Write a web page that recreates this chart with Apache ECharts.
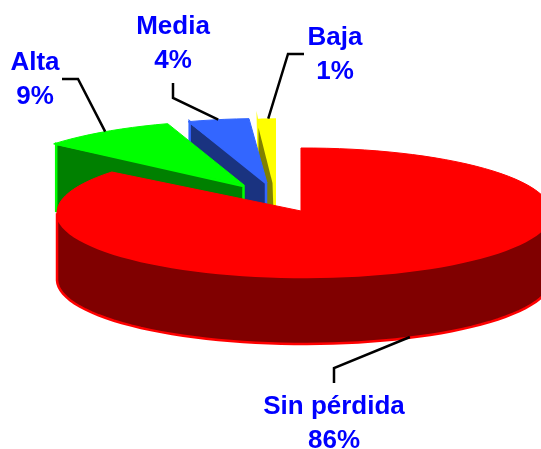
<!DOCTYPE html>
<html>
<head>
<meta charset="utf-8">
<style>html,body{margin:0;padding:0;background:#fff;overflow:hidden}#c{width:541px;height:449px}</style>
<script src="https://cdn.jsdelivr.net/npm/echarts@6/dist/echarts.min.js"></script>
</head>
<body>
<div id="c"></div>
<script>
// Data, drawn back to front: the shares run counter-clockwise from 12 o'clock
const categories = ['Baja', 'Media', 'Alta', 'Sin pérdida'];
const shares = [1, 4, 9, 86];

// Styles
const topColors = ['#ffff00', '#3366ff', '#00ff00', '#ff0000'];
const darkColors = ['#808000', '#1a3380', '#008000', '#800000'];
const textColor = '#0000ff';

// Pie projection
const radiusX = 247, radiusY = 64.5, depth = 67;
const rotations = [0, 0, 0, -0.7];
// Top-ellipse centre of each slice (exploded) and the tip of its wedge
const centers = [[276, 183], [264.5, 183], [244, 185], [304, 212.5]];
const apexes = [[276, 183], [267, 183], [244, 185], [301, 211]];
const faceApexes = [[272.5, 183], [266, 183], [243.5, 186], null];
const faceOuterShift = [0, 1.5, 2.5, 0];
// Label layout
const labelBoxes = [[335, 54.5], [173, 44], [35, 80], [334, 423.5]];
const elbows = [
  [[304, 54], [288, 54]],
  [[173, 83], [173, 98]],
  [[62, 79], [78, 79]],
  [[334, 383], [334, 368]]
];

function arcPoint(c, deg, i) {
  const r = (deg + rotations[i]) * Math.PI / 180;
  return [c[0] + radiusX * Math.sin(r), c[1] - radiusY * Math.cos(r)];
}
function arc(c, from, to, i) {
  const pts = [], n = Math.max(4, Math.ceil((to - from) / 3));
  for (let k = 0; k <= n; k++) pts.push(arcPoint(c, from + (to - from) * k / n, i));
  return pts;
}
const down = p => [p[0], p[1] + depth];
function poly(points, fill, stroke, width) {
  return { type: 'polygon', shape: { points: points },
    style: { fill: fill, stroke: stroke, lineWidth: width, lineJoin: 'miter' } };
}

function renderItem(params, api) {
  const i = params.dataIndex;
  const share = api.value(0);
  let after = 0;
  for (let k = 0; k < i; k++) after += shares[k];
  const end = 360 - after * 3.6, start = end - share * 3.6;
  const mid = (start + end) / 2;
  const c = centers[i], light = topColors[i], dark = darkColors[i];
  const children = [];
  const isBig = i === categories.length - 1;
  const top = [apexes[i]].concat(arc(c, start, end, i));

  if (i === 0) {
    // thin sliver: lit edge standing behind its cut face
    const o = arcPoint(c, start, i), e = arcPoint(c, end, i);
    children.push(poly([[o[0] - 4, o[1] - 8], [o[0] - 2.5, o[1]], e,
      [e[0], c[1] + 30], [o[0] - 2, c[1] + 30]], light, null, 0));
    children.push(poly([[o[0] - 2, o[1] + 9], faceApexes[i], [faceApexes[i][0] + 1, c[1] + 30], [o[0] - 2, c[1] + 30]], dark, null, 0));
    children.push(poly([[o[0], o[1]], e, [e[0], o[1] + 9], [o[0], o[1] + 9]], light, null, 0));
  } else if (isBig) {
    const wall = arc(c, 90, 270, i);
    children.push(poly(wall.concat(wall.map(down).reverse()), dark, light, 2.5));
    children.push(poly(top, light, light, 1));
  } else {
    const f = faceApexes[i];
    const o = arcPoint(c, start, i);
    o[0] += faceOuterShift[i];
    children.push(poly([o, f, down(f), down(o)], dark, light, 2.5));
    children.push(poly(top, light, light, 1));
  }

  // Leader line runs from the rim at the slice's middle angle
  let anchor = arcPoint(c, mid, i);
  if (isBig) anchor = [anchor[0] - 2, anchor[1] + depth - 0.5];
  children.push({ type: 'polyline', shape: { points: elbows[i].concat([anchor]) },
    style: { stroke: '#000', lineWidth: 2.5, fill: null } });

  const box = labelBoxes[i];
  children.push({ type: 'text', style: {
    x: box[0], y: box[1], text: categories[i] + '\n' + share + '%',
    font: 'bold 26px "Liberation Sans", Arial, sans-serif', lineHeight: 34,
    fill: textColor, align: 'center', verticalAlign: 'middle' } });

  return { type: 'group', children: children };
}

const chart = echarts.init(document.getElementById('c'), null, { renderer: 'canvas' });
chart.setOption({
  animation: false,
  backgroundColor: '#ffffff',
  series: [{
    type: 'custom',
    coordinateSystem: 'none',
    renderItem: renderItem,
    data: shares.map((v, i) => ({ name: categories[i], value: [v] }))
  }]
});
</script>
</body>
</html>
